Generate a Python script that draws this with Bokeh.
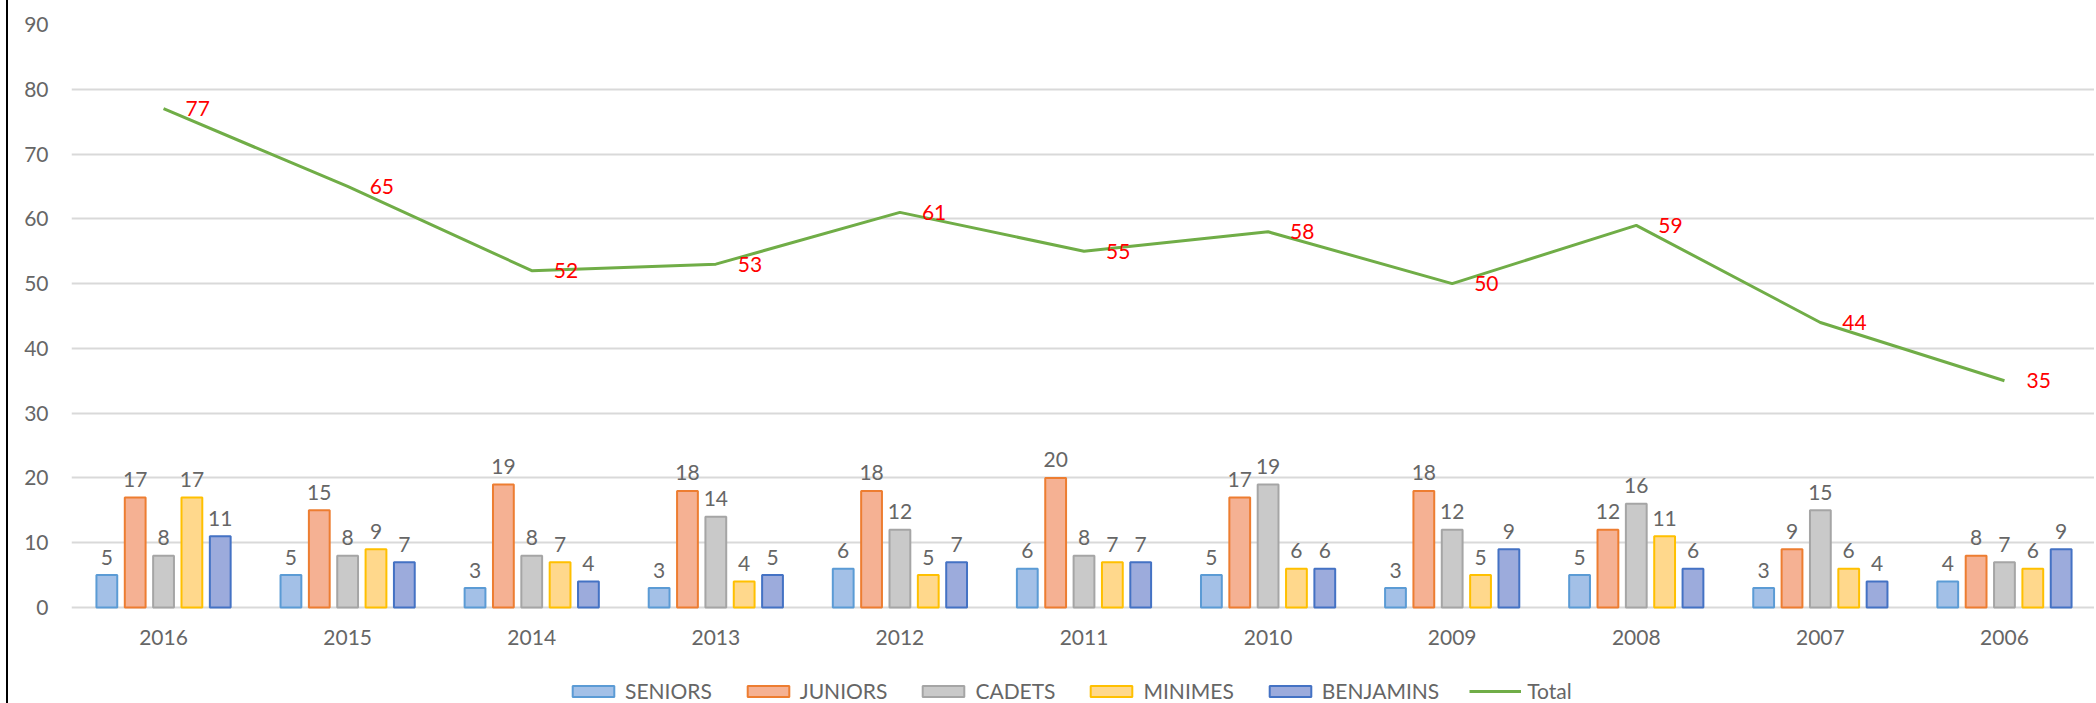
from bokeh.plotting import figure
from bokeh.models import (ColumnDataSource, Legend, LegendItem,
                          Range1d, FixedTicker)
from bokeh.transform import dodge
from bokeh.core.properties import value
from bokeh.embed import file_html
from bokeh.resources import INLINE

years = ["2016", "2015", "2014", "2013", "2012", "2011", "2010", "2009", "2008", "2007", "2006"]
seniors = [5, 5, 3, 3, 6, 6, 5, 3, 5, 3, 4]
juniors = [17, 15, 19, 18, 18, 20, 17, 18, 12, 9, 8]
cadets = [8, 8, 8, 14, 12, 8, 19, 12, 16, 15, 7]
minimes = [17, 9, 7, 4, 5, 7, 6, 5, 11, 6, 6]
benjamins = [11, 7, 4, 5, 7, 7, 6, 9, 6, 4, 9]
total = [77, 65, 52, 53, 61, 55, 58, 50, 59, 44, 35]
series_names = ["SENIORS", "JUNIORS", "CADETS", "MINIMES", "BENJAMINS"]
y_ticks = [0, 10, 20, 30, 40, 50, 60, 70, 80, 90]

series_values = [seniors, juniors, cadets, minimes, benjamins]
fills = ["#a3c0e7", "#f5b193", "#c9c9c9", "#ffd88c", "#9cabdc"]
borders = ["#5b9bd5", "#ed7d31", "#a5a5a5", "#ffc000", "#4472c4"]

FONT = "Lato"
GRAY = "#666666"
FS = "21px"

# layout (pixels): plot area from y=24 (value 90) to y=607 (value 0),
# the area below 0 holds the year labels and the legend
H = 703
TOP = 24
ZERO_Y = 607
y_max = 90
px_per_unit = (ZERO_Y - TOP) / y_max
y_min = -(H - ZERO_Y) / px_per_unit

pos = list(range(len(years)))  # category slot index on the x axis
data = dict(x=pos, year=years, zero=[0] * len(years), total=total,
            total_lbl=[str(v) for v in total])
for n, vals in zip(series_names, series_values):
    data[n] = vals
    data[n + "_lbl"] = [str(v) for v in vals]
src = ColumnDataSource(data)

p = figure(x_range=Range1d(-0.5, len(years) - 0.5), y_range=Range1d(y_min, y_max),
           width=2088, height=H, output_backend="svg", toolbar_location=None,
           x_axis_location=None,
           min_border_left=63, min_border_right=0, min_border_top=TOP,
           min_border_bottom=0)
p.styles = {"margin-left": "6px", "border-left": "2px solid black"}

p.outline_line_color = None
for g in p.xgrid:
    g.grid_line_color = None
for g in p.ygrid:
    g.grid_line_color = "#d9d9d9"
    g.grid_line_width = 2
p.yaxis.ticker = FixedTicker(ticks=y_ticks)
p.yaxis.axis_line_color = None
p.yaxis.major_tick_line_color = None
p.yaxis.minor_tick_line_color = None
p.yaxis.major_tick_out = 0
p.yaxis.minor_tick_out = 0
p.yaxis.major_label_text_font = FONT
p.yaxis.major_label_text_font_size = FS
p.yaxis.major_label_text_color = GRAY
p.yaxis.major_label_standoff = 23

# category (year) labels under the zero line
p.text(x="x", y="zero", text="year", source=src, y_offset=30,
       text_align="center", text_baseline="middle", text_font=value(FONT),
       text_font_size=FS, text_color=GRAY)

pitch = 0.154
items = []
for i, (n, fc, lc) in enumerate(zip(series_names, fills, borders)):
    off = (i - 2) * pitch
    r = p.vbar(x=dodge("x", off), top=n, width=0.113,
               source=src, fill_color=fc, line_color=lc, line_width=2)
    p.text(x=dodge("x", off), y=n, text=n + "_lbl",
           source=src, text_align="center", text_baseline="alphabetic",
           y_offset=-18, text_font=value(FONT), text_font_size=FS,
           text_color=GRAY)
    items.append(LegendItem(label=n, renderers=[r]))

lr = p.line(x="x", y="total", source=src, line_color="#70ad47", line_width=3)
p.text(x="x", y="total", text="total_lbl", source=src, x_offset=22,
       text_align="left", text_baseline="middle", text_font=value(FONT),
       text_font_size=FS, text_color="#ff0000")
items.append(LegendItem(label="Total", renderers=[lr]))

legend = Legend(items=items, orientation="horizontal", location=(496, 0),
                glyph_width=52, glyph_height=14, label_standoff=6, spacing=30,
                label_text_font=FONT, label_text_font_size=FS,
                label_text_color=GRAY, label_height=24, padding=0, margin=0,
                border_line_color=None, background_fill_alpha=0)
p.add_layout(legend, "center")

open("out.html", "w").write(file_html(p, INLINE))
